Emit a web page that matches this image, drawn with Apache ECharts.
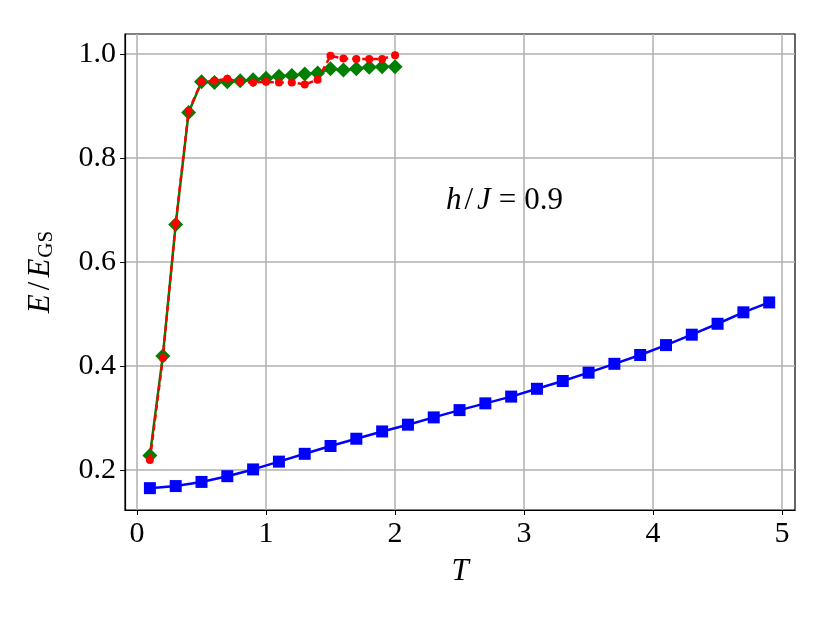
<!DOCTYPE html>
<html><head><meta charset="utf-8">
<script src="https://cdn.jsdelivr.net/npm/echarts@6/dist/echarts.min.js"></script>
<style>html,body{margin:0;padding:0;background:#fff}#c{width:830px;height:623px}</style>
</head><body><div id="c"></div>
<script>
const xTicks = [0, 1, 2, 3, 4, 5];
const yTicks = [0.2, 0.4, 0.6, 0.8, 1.0];
const blueT = [0.1,0.3,0.5,0.7,0.9,1.1,1.3,1.5,1.7,1.9,2.1,2.3,2.5,2.7,2.9,3.1,3.3,3.5,3.7,3.9,4.1,4.3,4.5,4.7,4.9];
const blueE = [0.165,0.169,0.177,0.188,0.201,0.216,0.231,0.246,0.260,0.274,0.287,0.301,0.315,0.328,0.341,0.356,0.371,0.387,0.404,0.421,0.440,0.460,0.481,0.503,0.522];
const lowT = [0.1,0.2,0.3,0.4,0.5,0.6,0.7,0.8,0.9,1.0,1.1,1.2,1.3,1.4,1.5,1.6,1.7,1.8,1.9,2.0];
const greenE = [0.228,0.419,0.672,0.887,0.946,0.945,0.946,0.948,0.950,0.953,0.957,0.958,0.961,0.963,0.971,0.969,0.971,0.974,0.975,0.975];
const redE = [0.219,0.415,0.674,0.890,0.946,0.948,0.952,0.946,0.945,0.946,0.945,0.945,0.941,0.950,0.996,0.991,0.990,0.990,0.990,0.997];

const zip = (a, b) => a.map((v, i) => [v, b[i]]);
const serif = '"Liberation Serif", "DejaVu Serif", serif';
const chart = echarts.init(document.getElementById('c'));
chart.setOption({
  backgroundColor: '#fff',
  animation: false,
  grid: { left: 125, right: 35, top: 34, bottom: 113, show: true, borderColor: '#000', borderWidth: 1.2, backgroundColor: 'transparent' },
  xAxis: {
    type: 'value', min: -0.093, max: 5.1,
    name: 'T', nameLocation: 'middle', nameGap: 46,
    nameTextStyle: { fontFamily: serif, fontStyle: 'italic', fontSize: 31, color: '#000' },
    axisLine: { show: true, onZero: false, lineStyle: { color: '#000', width: 1.2 } },
    axisTick: { show: true, length: 5, lineStyle: { color: '#000' }, customValues: xTicks },
    axisLabel: { customValues: xTicks, fontFamily: serif, fontSize: 30, color: '#000', margin: 9, formatter: v => String(Math.round(v)) },
    splitLine: { show: true, lineStyle: { color: '#b0b0b0', width: 1.5 } }
  },
  yAxis: {
    type: 'value', min: 0.123, max: 1.038,
    name: '{i|E}{n|/}{i|E}{s|GS}', nameLocation: 'middle', nameGap: 68, nameRotate: 90,
    nameTextStyle: { fontFamily: serif, fontSize: 31, color: '#000',
      rich: {
        i: { fontFamily: serif, fontStyle: 'italic', fontSize: 31, color: '#000' },
        n: { fontFamily: serif, fontSize: 31, color: '#000', padding: [0, 4, 0, 4] },
        s: { fontFamily: serif, fontSize: 21, color: '#000', verticalAlign: 'bottom', padding: [12, 0, 0, 1] }
      } },
    axisLine: { show: true, onZero: false, lineStyle: { color: '#000', width: 1.2 } },
    axisTick: { show: true, length: 5, lineStyle: { color: '#000' }, customValues: yTicks },
    axisLabel: { customValues: yTicks, fontFamily: serif, fontSize: 30, color: '#000', margin: 9, formatter: v => v.toFixed(1) },
    splitLine: { show: true, lineStyle: { color: '#b0b0b0', width: 1.5 } }
  },
  series: [
    { type: 'line', data: zip(blueT, blueE), symbol: 'rect', symbolSize: 12,
      lineStyle: { color: '#0000ff', width: 2.5 }, itemStyle: { color: '#0000ff' }, z: 3 },
    { type: 'line', data: zip(lowT, greenE), symbol: 'diamond', symbolSize: [15, 15],
      lineStyle: { color: '#008000', width: 2.5 }, itemStyle: { color: '#008000' }, z: 4 },
    { type: 'line', data: zip(lowT, redE), symbol: 'circle', symbolSize: 8,
      lineStyle: { color: '#ff0000', width: 2.5, type: [6, 4] }, itemStyle: { color: '#ff0000' }, z: 5 }
  ],
  graphic: [{
    type: 'text', left: 446, top: 185, z: 10,
    style: { text: '{i|h}{s|/}{i|J}{e|=}{n|0.9}', font: '30px ' + serif, fill: '#000',
      rich: {
        i: { fontFamily: serif, fontStyle: 'italic', fontSize: 31, fill: '#000' },
        s: { fontFamily: serif, fontSize: 31, fill: '#000', padding: [0, 4, 0, 3] },
        n: { fontFamily: serif, fontSize: 31, fill: '#000' },
        e: { fontFamily: serif, fontSize: 31, fill: '#000', padding: [0, 8, 0, 8] }
      } }
  }]
});
</script></body></html>
